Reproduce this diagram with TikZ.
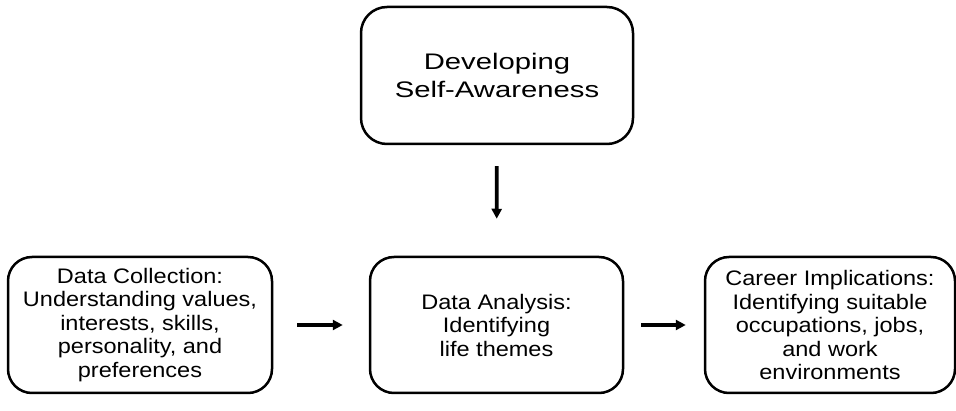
\documentclass[tikz,border=0pt]{standalone}
\usepackage{fontspec}
\setmainfont{Liberation Sans}[FakeStretch=1.12]
\newfontfamily\headfont{Liberation Sans}[FakeStretch=1.3]
\usepackage{tikz}
\usetikzlibrary{shapes,arrows,positioning,calc,arrows.meta}
\tikzset{
  stagebox/.style={draw, line width=2.5pt, rounded corners=24pt, align=center,
    minimum height=136pt, inner sep=0pt, font=\fontsize{21}{23.5}\selectfont},
  flowarrow/.style={line width=3.8pt, -{Triangle[length=10pt,width=10pt]}}
}
\begin{document}
\begin{tikzpicture}[x=1pt,y=1pt]
            \useasboundingbox (0,0) rectangle (956,-411);
            % Top box
            \node[stagebox, minimum width=272pt, minimum height=137pt, rounded corners=26pt,
              font=\headfont\fontsize{22.5}{28}\selectfont] (aware) at (497,-75.5)
              {Developing\\Self-Awareness};
            
            % Bottom row
            \node[stagebox, minimum width=264pt] (collect) at (140,-325)
              {Data Collection:\\Understanding values,\\interests, skills,\\personality, and\\preferences};
            \node[stagebox, minimum width=253pt] (analyse) at (496.5,-325)
              {Data Analysis:\\Identifying\\life themes};
            \node[stagebox, minimum width=250pt] (career) at (830,-325)
              {Career Implications:\\Identifying suitable\\occupations, jobs,\\and work\\environments};
            
            % Arrows
            \draw[flowarrow, shorten <=21pt, shorten >=37pt] (aware) -- (analyse);
            \draw[flowarrow, shorten <=24pt, shorten >=26pt] (collect) -- (analyse);
            \draw[flowarrow, shorten <=17pt, shorten >=18pt] (analyse) -- (career);
        \end{tikzpicture}
\end{document}
